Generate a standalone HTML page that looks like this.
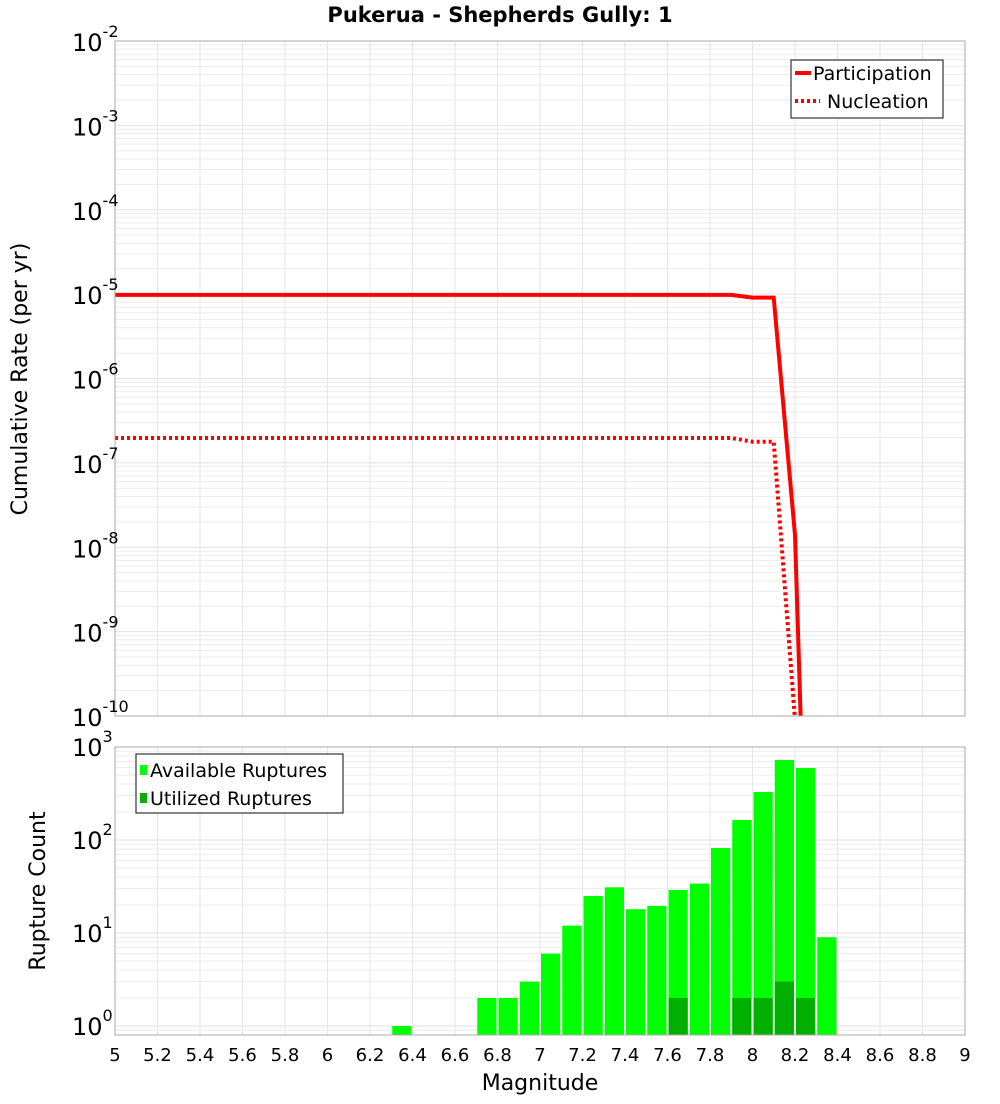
<!DOCTYPE html>
<html><head><meta charset="utf-8"><style>
body{margin:0;background:#fff;font-family:"DejaVu Sans","Liberation Sans",sans-serif;}
svg text{font-family:"DejaVu Sans","Liberation Sans",sans-serif;}
</style></head><body>
<svg id="chart" width="1000" height="1100" xmlns="http://www.w3.org/2000/svg">
<rect width="1000" height="1100" fill="#fff"/>
<text x="500" y="22" text-anchor="middle" font-size="21" font-weight="bold">Pukerua - Shepherds Gully: 1</text>
<g id="topPlot"></g><g id="botPlot"></g>
<text transform="translate(27,379) rotate(-90)" text-anchor="middle" font-size="22">Cumulative Rate (per yr)</text>
<text transform="translate(45,891) rotate(-90)" text-anchor="middle" font-size="22">Rupture Count</text>
<text x="540" y="1090" text-anchor="middle" font-size="22">Magnitude</text>
</svg>
<script>
const mags=[5.0,5.1,5.2,5.3,5.4,5.5,5.6,5.7,5.8,5.9,6.0,6.1,6.2,6.3,6.4,6.5,6.6,6.7,6.8,6.9,7.0,7.1,7.2,7.3,7.4,7.5,7.6,7.7,7.8,7.9,8.0,8.1,8.2,8.3];
const participation=[9.8e-6,9.8e-6,9.8e-6,9.8e-6,9.8e-6,9.8e-6,9.8e-6,9.8e-6,9.8e-6,9.8e-6,9.8e-6,9.8e-6,9.8e-6,9.8e-6,9.8e-6,9.8e-6,9.8e-6,9.8e-6,9.8e-6,9.8e-6,9.8e-6,9.8e-6,9.8e-6,9.8e-6,9.8e-6,9.8e-6,9.8e-6,9.8e-6,9.8e-6,9.8e-6,9.1e-6,9.1e-6,1.4e-8,1e-16];
const nucleation=[1.97e-7,1.97e-7,1.97e-7,1.97e-7,1.97e-7,1.97e-7,1.97e-7,1.97e-7,1.97e-7,1.97e-7,1.97e-7,1.97e-7,1.97e-7,1.97e-7,1.97e-7,1.97e-7,1.97e-7,1.97e-7,1.97e-7,1.97e-7,1.97e-7,1.97e-7,1.97e-7,1.97e-7,1.97e-7,1.97e-7,1.97e-7,1.97e-7,1.97e-7,1.97e-7,1.78e-7,1.78e-7,9e-11,1e-16];
const binCenters=[6.35,6.75,6.85,6.95,7.05,7.15,7.25,7.35,7.45,7.55,7.65,7.75,7.85,7.95,8.05,8.15,8.25,8.35];
const available=[1,2,2,3,6,12,25,31,18,19.5,29,34,82,164,328,724,594,9];
const utilized=[0,0,0,0,0,0,0,0,0,0,2,0,0,2,2,3,2,0];
const xTicks=["5","5.2","5.4","5.6","5.8","6","6.2","6.4","6.6","6.8","7","7.2","7.4","7.6","7.8","8","8.2","8.4","8.6","8.8","9"];
const topExps=[-2,-3,-4,-5,-6,-7,-8,-9,-10];
const botExps=[3,2,1,0];

const NS="http://www.w3.org/2000/svg";
const L=115,R=965;
const X=m=>L+(m-5)*(R-L)/4;
const T0=41,T1=716,Ytop=v=>T0+(-2-Math.log10(v))*(T1-T0)/8;
const B0=747,B1=1035,Ybot=v=>1026-Math.log10(v)*93;
function el(p,t,a){const e=document.createElementNS(NS,t);for(const k in a)e.setAttribute(k,a[k]);p.appendChild(e);return e;}
const gTop=document.getElementById('topPlot'),gBot=document.getElementById('botPlot');
const defs=el(document.getElementById('chart'),'defs',{});
const c1=el(defs,'clipPath',{id:'ct'});el(c1,'rect',{x:L,y:T0,width:R-L,height:T1-T0});
const c2=el(defs,'clipPath',{id:'cb'});el(c2,'rect',{x:L,y:B0,width:R-L,height:B1-B0});

function grid(g,y0,y1,Y,emin,emax,clip){
  const gg=el(g,'g',{'clip-path':clip});
  
  
  for(let e=emin;e<=emax;e++)for(let k=1;k<10;k++){const y=Y(k*Math.pow(10,e));if(y<y0||y>y1)continue;
    el(gg,'line',{x1:L,x2:R,y1:y,y2:y,stroke:k==1?'#e2e2e2':'#ececec','stroke-width':1});}
  xTicks.forEach(t=>{const x=X(+t);el(gg,'line',{x1:x,x2:x,y1:y0,y2:y1,stroke:'#e6e6e6','stroke-width':1});});
}
grid(gTop,T0,T1,Ytop,-11,-2,'url(#ct)');
grid(gBot,B0,B1,Ybot,-1,3,'url(#cb)');

function path(arr){return arr.map((v,i)=>(i?'L':'M')+X(mags[i]).toFixed(1)+','+Ytop(v).toFixed(1)).join(' ');}
const pl=el(gTop,'path',{d:path(participation),fill:'none',stroke:'#ff0000','stroke-width':4,'clip-path':'url(#ct)'});


const nl=el(gTop,'path',{d:path(nucleation),fill:'none',stroke:'#ff0000','stroke-width':4,'stroke-dasharray':'3,3','clip-path':'url(#ct)'});


el(gTop,'rect',{x:L,y:T0,width:R-L,height:T1-T0,fill:'none',stroke:'#aaa','stroke-width':1});
topExps.forEach(e=>{const y=Ytop(Math.pow(10,e));
  const t=el(gTop,'text',{x:72,y:y+10,'font-size':24});
  
  
  t.textContent='10';const s=el(t,'tspan',{dy:-14,'font-size':16});s.textContent=String(e);});
const lg=el(gTop,'g',{});


el(lg,'rect',{x:791,y:60,width:152,height:58,fill:'#fff',stroke:'#333','stroke-width':1.2});
el(lg,'line',{x1:795,x2:811,y1:73,y2:73,stroke:'#f00','stroke-width':4});
el(lg,'line',{x1:795,x2:820,y1:101,y2:101,stroke:'#f00','stroke-width':4,'stroke-dasharray':'3,3'});
let t=el(lg,'text',{x:813,y:80,'font-size':19});t.textContent='Participation';
t=el(lg,'text',{x:827,y:108,'font-size':19});t.textContent='Nucleation';

binCenters.forEach((m,i)=>{const x=X(m-0.05)+1,w=X(m+0.05)-X(m-0.05)-2;
  const y=Ybot(available[i]);
  const r=el(gBot,'rect',{x:x,y:y,width:w,height:B1-y,fill:'#00ff00'});
  
  
  if(utilized[i]>0){const yu=Ybot(utilized[i]);
    const u=el(gBot,'rect',{x:x,y:yu,width:w,height:B1-yu,fill:'#00b000'});
    
    }
});
el(gBot,'rect',{x:L,y:B0,width:R-L,height:B1-B0,fill:'none',stroke:'#aaa','stroke-width':1});
botExps.forEach(e=>{const y=Ybot(Math.pow(10,e));
  const t=el(gBot,'text',{x:72,y:y+9,'font-size':24});
  
  
  t.textContent='10';const s=el(t,'tspan',{dy:-14,'font-size':16});s.textContent=String(e);});
xTicks.forEach(v=>{const t=el(gBot,'text',{x:X(+v),y:1061,'text-anchor':'middle','font-size':18});
  
  
  t.textContent=v;});
const bl=el(gBot,'g',{});


el(bl,'rect',{x:136,y:754,width:207,height:59,fill:'#fff',stroke:'#333','stroke-width':1.2});
el(bl,'rect',{x:140,y:765,width:7,height:10,fill:'#00ff00'});
el(bl,'rect',{x:140,y:793,width:7,height:10,fill:'#00b000'});
t=el(bl,'text',{x:150,y:777,'font-size':19});t.textContent='Available Ruptures';
t=el(bl,'text',{x:150,y:805,'font-size':19});t.textContent='Utilized Ruptures';
</script>
</body></html>
